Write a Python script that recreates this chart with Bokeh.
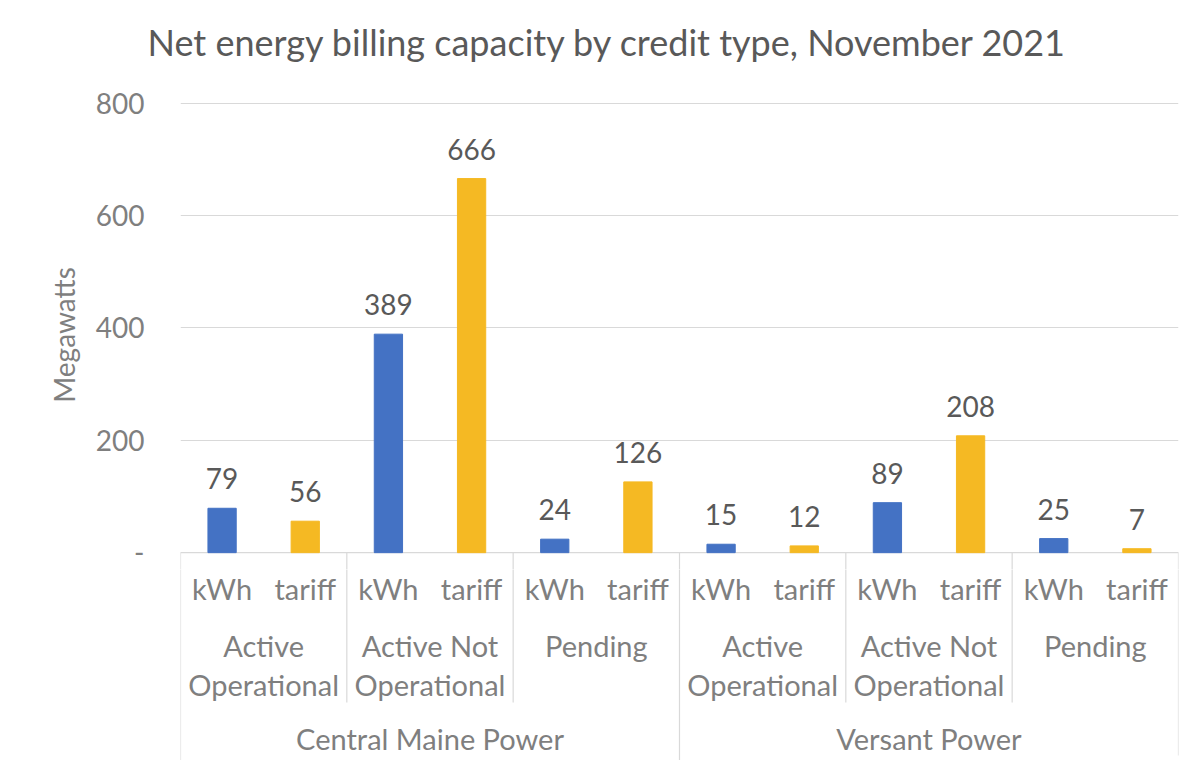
from bokeh.plotting import figure
from bokeh.models import FactorRange, Range1d, FixedTicker, CustomJSTickFormatter, ColumnDataSource
from bokeh.layouts import column
from bokeh.embed import file_html
from bokeh.resources import INLINE
from bokeh.core.properties import value

# ---- data ----
utilities = ["Central Maine Power", "Versant Power"]
statuses = ["Active\nOperational", "Active Not\nOperational", "Pending"]
credit_types = ["kWh", "tariff"]
kwh_values = [79, 389, 24, 15, 89, 25]        # per utility x status
tariff_values = [56, 666, 126, 12, 208, 7]
y_ticks = [0, 200, 400, 600, 800]

BLUE = "#4472C4"
GOLD = "#F5B923"
FONT = "Lato"
TEXT = "#595959"
LIGHT = "#7F7F7F"
GRID = "#D9D9D9"

factors = [(u, s, c) for u in utilities for s in statuses for c in credit_types]
xr = FactorRange(*factors, range_padding=0, group_padding=0, subgroup_padding=0)

bx, by, bc, lbl = [], [], [], []
i = 0
for u in utilities:
    for s in statuses:
        for c, vals, col in (("kWh", kwh_values, BLUE), ("tariff", tariff_values, GOLD)):
            v = vals[i]
            bx.append((u, s, c)); by.append(v); bc.append(col); lbl.append(str(v))
        i += 1
src = ColumnDataSource(dict(x=bx, top=by, color=bc, label=lbl))

W = 1190
LEFT, RIGHT = 180, 12
TOP = 100
H_TOP = 569
Y0 = -30  # a little room below zero so the "-" tick label is not cut

first_x = (utilities[0], statuses[0], credit_types[0], -0.5)
last_x = (utilities[-1], statuses[-1], credit_types[-1], 0.5)
sep_x = [(u, s, credit_types[0], -0.5) for u in utilities for s in statuses] + [last_x]
sep_full = [si == 0 for u in utilities for si, s in enumerate(statuses)] + [True]

p = figure(x_range=xr, y_range=Range1d(Y0, 805), width=W, height=H_TOP,
           output_backend="svg", toolbar_location=None,
           min_border_left=LEFT, min_border_right=RIGHT, min_border_top=TOP, min_border_bottom=0,
           title="Net energy billing capacity by credit type, November 2021")
p.title.text_font = FONT
p.title.text_font_size = "36px"
p.title.text_font_style = "normal"
p.title.text_color = TEXT
p.title.align = "left"
p.title.offset = -33
if "padding" in p.title.properties():
    p.title.padding = dict(left=0, right=0, top=0, bottom=32)
    p.title.standoff = 10
else:
    p.title.standoff = 50
p.outline_line_color = None
p.xaxis.visible = False
p.xgrid.grid_line_color = None
p.ygrid.grid_line_color = GRID
p.ygrid.grid_line_width = 1
p.yaxis.ticker = FixedTicker(ticks=y_ticks)
p.yaxis.formatter = CustomJSTickFormatter(code="return tick == 0 ? '-' : tick.toString();")
p.yaxis.axis_line_color = None
p.yaxis.major_tick_line_color = None
p.yaxis.minor_tick_line_color = None
p.yaxis.major_label_text_font = FONT
p.yaxis.major_label_text_font_size = "28px"
p.yaxis.major_label_text_color = LIGHT
p.yaxis.major_label_standoff = 30
p.yaxis.axis_label = "Megawatts"
p.yaxis.axis_label_text_font = FONT
p.yaxis.axis_label_text_font_size = "28px"
p.yaxis.axis_label_text_font_style = "normal"
p.yaxis.axis_label_text_color = LIGHT
p.yaxis.axis_label_standoff = 12

# axis baseline and start of separators (below zero)
p.segment(x0=[first_x], x1=[last_x], y0=[0], y1=[0], line_color=GRID, line_width=1.2)
p.segment(x0=sep_x, x1=sep_x, y0=[0] * len(sep_x), y1=[Y0] * len(sep_x),
          line_color=GRID, line_width=1.2)

p.vbar(x="x", top="top", width=0.34, color="color", source=src)
p.text(x="x", y="top", text="label", source=src, text_align="center", text_baseline="bottom",
       y_offset=-19, text_font=value(FONT), text_font_size="28px", text_color=TEXT)

# ---- category axis panel ----
H_BOT = 191
q = figure(x_range=xr, y_range=Range1d(-17 - H_BOT, -17), width=W, height=H_BOT,
           output_backend="svg", toolbar_location=None,
           min_border_left=LEFT, min_border_right=RIGHT, min_border_top=0, min_border_bottom=0)
q.axis.visible = False
q.grid.grid_line_color = None
q.outline_line_color = None

sy1 = [(-17 - H_BOT) if full else -150 for full in sep_full]
sy1[-1] = -203
q.segment(x0=sep_x, x1=sep_x, y0=[0] * len(sep_x), y1=sy1, line_color=GRID, line_width=1.2)

# labels
q.text(x=factors, y=[-36] * len(factors), text=[f[2] for f in factors], text_align="center",
       text_baseline="middle", text_font=value(FONT), text_font_size="29px", text_color=LIGHT)
sfac = [(u, s) for u in utilities for s in statuses]
q.text(x=sfac, y=[-75] * len(sfac), text=[f[1] for f in sfac], text_align="center",
       text_baseline="top", text_line_height=1.12, text_font=value(FONT), text_font_size="29px",
       text_color=LIGHT)
q.text(x=utilities, y=[-186] * len(utilities), text=utilities, text_align="center",
       text_baseline="middle", text_font=value(FONT), text_font_size="29px", text_color=LIGHT)

layout = column(p, q, spacing=0)
open("out.html", "w").write(file_html(layout, INLINE))
